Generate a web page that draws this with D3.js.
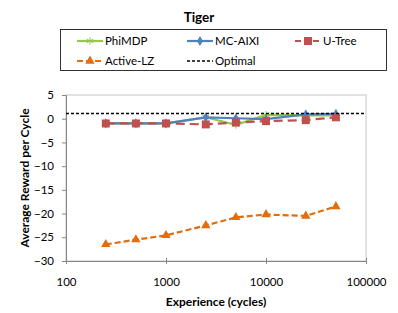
<!DOCTYPE html>
<html lang="en">
<head>
  <meta charset="UTF-8">
  <title>Tiger</title>
  <script src="https://d3js.org/d3.v7.min.js"></script>
  <style>
    body { margin: 0; background: #fff; overflow: hidden; font-family: Lato, "Open Sans", sans-serif; }
    text { fill: #000; }
  </style>
</head>
<body>
<svg id="chart" width="398" height="313"></svg>
<script>
// data
const experience = [250, 500, 1000, 2500, 5000, 10000, 25000, 50000];
const phiMDP   = [-1.0, -1.0, -1.0, 0.3, -1.3, 0.8, 0.7, 0.7];
const mcAIXI   = [-1.0, -1.0, -1.0, 0.3, 0.1, -0.1, 0.9, 1.0];
const uTree    = [-1.0, -1.0, -1.0, -1.2, -0.8, -0.5, -0.3, 0.3];
const activeLZ = [-26.5, -25.5, -24.6, -22.5, -20.8, -20.2, -20.5, -18.5];
const optimal  = 1.1;
const xTicks = [100, 1000, 10000, 100000];
const yTicks = [5, 0, -5, -10, -15, -20, -25, -30];

const svg = d3.select("#chart");
const pLeft = 66, pRight = 366, pTop = 95, pBottom = 261;

const x = d3.scaleLog().domain([100, 100000]).range([pLeft, pRight]);
const y = d3.scaleLinear().domain([-30, 5]).range([pBottom, pTop]);

// plot frame
svg.append("rect")
  .attr("x", pLeft).attr("y", pTop)
  .attr("width", pRight - pLeft).attr("height", pBottom - pTop)
  .attr("fill", "none").attr("stroke", "#c6c6c6");

// axes
const yAxis = svg.append("g").attr("transform", `translate(${pLeft},0)`)
  .call(d3.axisLeft(y).tickValues(yTicks).tickSize(4).tickPadding(8));
const xAxis = svg.append("g").attr("transform", `translate(0,${pBottom})`)
  .call(d3.axisBottom(x).tickValues(xTicks).tickFormat(d3.format("d")).tickSize(3).tickPadding(14));
[xAxis, yAxis].forEach(a => {
  a.select(".domain").attr("stroke", "#868686");
  a.selectAll(".tick line").attr("stroke", "#868686");
  a.selectAll(".tick text").attr("font-size", 11.5).attr("font-family", "Lato, sans-serif").attr("fill", "#000");
});
xAxis.selectAll(".tick line").attr("y1", -3);

const line = d3.line().x((d, i) => x(experience[i])).y(d => y(d));

const series = [
  { name: "PhiMDP", values: phiMDP, color: "#92C84C", dash: null, marker: "star" },
  { name: "MC-AIXI", values: mcAIXI, color: "#4F81BD", dash: null, marker: "diamond" },
  { name: "U-Tree", values: uTree, color: "#C0504D", dash: "9,5", marker: "square" },
  { name: "Active-LZ", values: activeLZ, color: "#E46C0A", dash: "6,3", marker: "triangle" }
];

function marker(g, type, color, cx, cy) {
  if (type === "square") {
    g.append("rect").attr("x", cx - 4).attr("y", cy - 4).attr("width", 8).attr("height", 8).attr("fill", color);
  } else if (type === "diamond") {
    g.append("path").attr("d", d3.symbol(d3.symbolDiamond, 30)()).attr("transform", `translate(${cx},${cy})`).attr("fill", color);
  } else if (type === "triangle") {
    g.append("path").attr("d", d3.symbol(d3.symbolTriangle, 38)()).attr("transform", `translate(${cx},${cy})`).attr("fill", color);
  } else {
    g.append("path").attr("d", d3.symbol(d3.symbolAsterisk, 40)()).attr("transform", `translate(${cx},${cy})`)
      .attr("fill", "none").attr("stroke", color).attr("stroke-width", 1);
  }
}

series.forEach(s => {
  const g = svg.append("g");
  g.append("path").attr("d", line(s.values))
    .attr("fill", "none").attr("stroke", s.color).attr("stroke-width", 2.2)
    .attr("stroke-dasharray", s.dash);
  s.values.forEach((v, i) => marker(g, s.marker, s.color, x(experience[i]), y(v)));
});

// optimal line
svg.append("line")
  .attr("x1", pLeft).attr("x2", pRight).attr("y1", y(optimal)).attr("y2", y(optimal))
  .attr("stroke", "#000").attr("stroke-width", 1.3).attr("stroke-dasharray", "3,2");

// titles
svg.append("text").attr("x", 199).attr("y", 22).attr("text-anchor", "middle")
  .attr("font-size", 13.5).attr("font-weight", "bold").text("Tiger");
svg.append("text").attr("x", 216).attr("y", 306).attr("text-anchor", "middle")
  .attr("font-size", 12).attr("font-weight", "bold").text("Experience (cycles)");
svg.append("text").attr("transform", `translate(29,${(pTop + pBottom) / 2}) rotate(-90)`)
  .attr("text-anchor", "middle").attr("font-size", 12).attr("font-weight", "bold")
  .text("Average Reward per Cycle");

// legend
svg.append("rect").attr("x", 60.5).attr("y", 29.5).attr("width", 326).attr("height", 41)
  .attr("fill", "#fff").attr("stroke", "#000").attr("stroke-width", 0.8);
const legendItems = [
  { s: series[0], lx: 77, ly: 41 },
  { s: series[1], lx: 187, ly: 41 },
  { s: series[2], lx: 295, ly: 41 },
  { s: series[3], lx: 77, ly: 61 },
  { s: { name: "Optimal", color: "#000", dash: "3,2", marker: null }, lx: 187, ly: 61 }
];
legendItems.forEach(({ s, lx, ly }) => {
  const g = svg.append("g");
  g.append("line").attr("x1", lx).attr("x2", lx + 26).attr("y1", ly).attr("y2", ly)
    .attr("stroke", s.color).attr("stroke-width", s.marker ? 2.2 : 1.3)
    .attr("stroke-dasharray", s.marker ? (s.dash ? "6,3" : null) : "3,2");
  if (s.marker) marker(g, s.marker, s.color, lx + 13, ly);
  g.append("text").attr("x", lx + 28).attr("y", ly + 4).attr("font-size", 11.5).text(s.name);
});
</script>
</body>
</html>
